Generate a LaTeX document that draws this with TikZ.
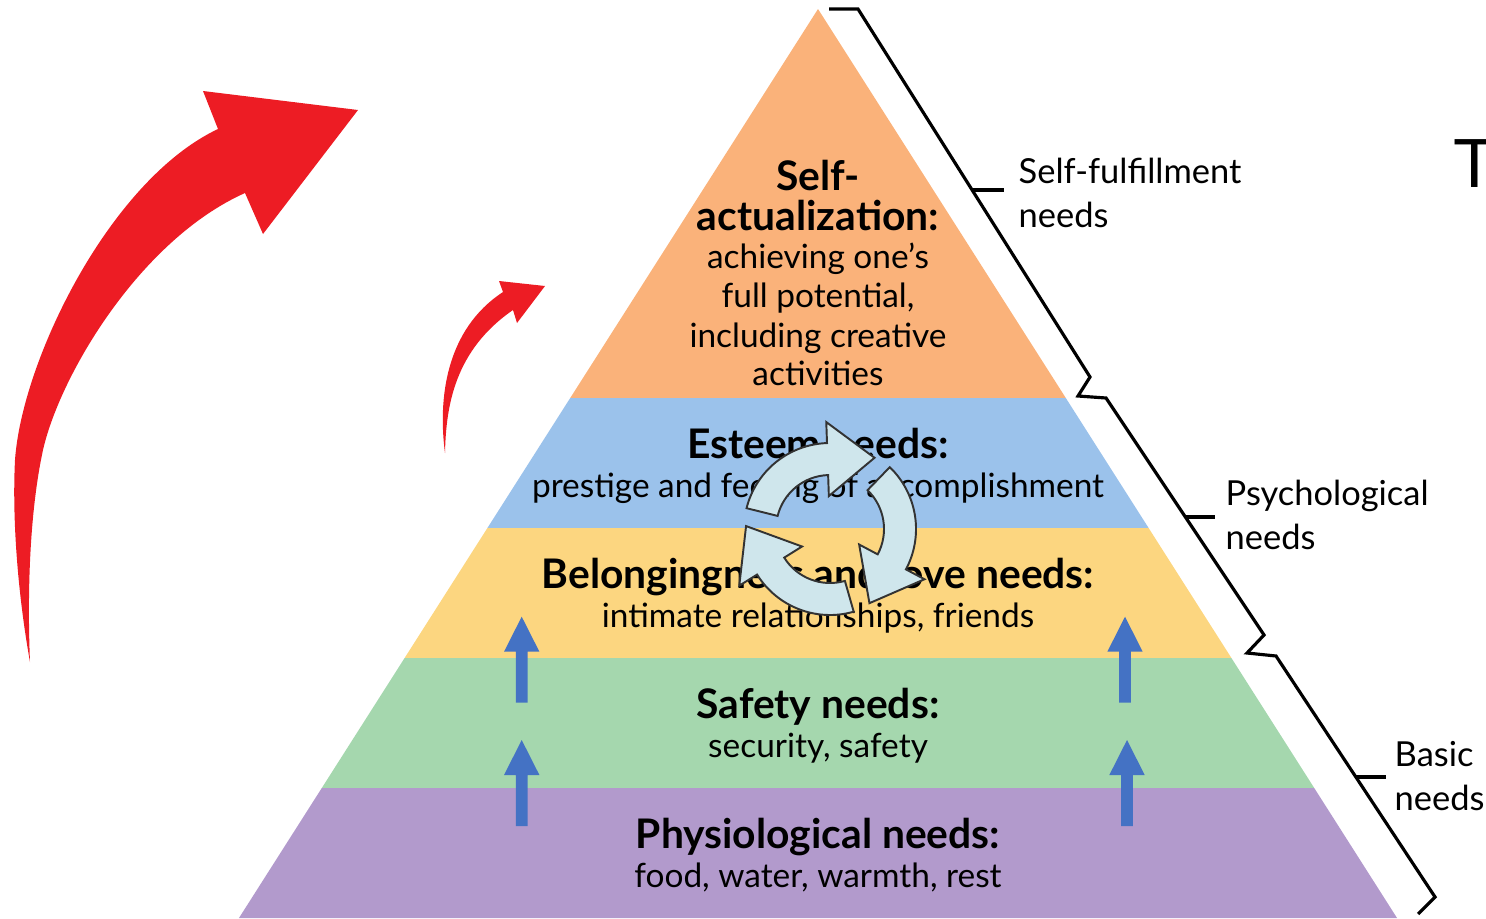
\documentclass[tikz,border=0pt]{standalone}
\usepackage{fontspec}
\setmainfont{Lato}
\newfontfamily\titlefont{Liberation Sans}
\usetikzlibrary{calc}
\definecolor{saorange}{HTML}{FAB27A}
\definecolor{esblue}{HTML}{9BC2EB}
\definecolor{blyellow}{HTML}{FCD680}
\definecolor{sfgreen}{HTML}{A5D7AE}
\definecolor{phpurple}{HTML}{B29ACC}
\definecolor{arrred}{HTML}{ED1C24}
\definecolor{arrblue}{HTML}{4472C4}
\definecolor{cycfill}{HTML}{CFE6EC}
\newcommand\pyrreg{\fontsize{9.5}{11}\selectfont}
\newcommand\pyrbold{\fontsize{11.6}{13}\selectfont\bfseries}
\newcommand\sidefnt{\fontsize{9.8}{12}\selectfont}

\begin{document}
\begin{tikzpicture}[x=0.01cm,y=-0.01cm,
  lvl/.style={font=\pyrreg,anchor=base,inner sep=0pt},
  lvlb/.style={lvl,font=\pyrbold},
  side/.style={font=\sidefnt,anchor=base west,inner sep=0pt},
  brace/.style={line width=0.9pt,line join=miter},
  cyc/.style={fill=cycfill,draw=black!80,line width=0.55pt,line join=miter}]
\useasboundingbox (0,0) rectangle (1486,918);
\clip (0,0) rectangle (1486,918);
% pyramid bands
\foreach \ya/\yb/\col in {9/398/saorange,398/528/esblue,528/658/blyellow,658/788/sfgreen,788/918/phpurple}
  \fill[\col] ({818-0.637*(\ya-9)},\ya)--({818+0.637*(\ya-9)},\ya)--({818+0.637*(\yb-9)},\yb)--({818-0.637*(\yb-9)},\yb)--cycle;
% level texts
\node[lvlb] (sa1) at (818,190) {Self-};
\node[lvlb] (sa2) at (818,230) {actualization:};
\node[lvl] (sa3) at (818,268) {achieving one’s};
\node[lvl] (sa4) at (818,307) {full potential,};
\node[lvl] (sa5) at (818,347) {including creative};
\node[lvl] (sa6) at (818,385) {activities};
\node[lvlb] (es1) at (818,458) {Esteem needs:};
\node[lvl] (es2) at (818,497) {prestige and feeling of accomplishment};
\node[lvlb] (bl1) at (818,588) {Belongingness and love needs:};
\node[lvl] (bl2) at (818,627) {intimate relationships, friends};
\node[lvlb] (sf1) at (818,718) {Safety needs:};
\node[lvl] (sf2) at (818,757) {security, safety};
\node[lvlb] (ph1) at (818,848) {Physiological needs:};
\node[lvl] (ph2) at (818,887) {food, water, warmth, rest};
% brackets
\draw[brace] (829,9)--(858,9)--(1090,377)--(1078,396)--(1106,398)--(1264,635)--(1247,653)--(1276,656)--(1435,897)--(1418,914);
\draw[brace] (972,190)--(1004,190);
\draw[brace] (1186,517)--(1215,517);
\draw[brace] (1356,777)--(1386,777);
\node[side] (lsf1) at (1018,183) {Self-fulfillment};
\node[side] (lsf2) at (1018,227) {needs};
\node[side] (lps1) at (1225,505) {Psychological};
\node[side] (lps2) at (1225,549) {needs};
\node[side] (lba1) at (1394,766) {Basic};
\node[side] (lba2) at (1394,810) {needs};
\node[font={\titlefont\fontsize{19.8}{22}\selectfont},anchor=base west,inner sep=0pt] (ttl) at (1452.5,187) {T};
% red arrows
\fill[arrred] (30,662) .. controls (18,595) and (12,520) .. (15,460) .. controls (22,360) and (110,180) .. (218,129) -- (203,91) -- (358,110) -- (263,234) -- (245,193) .. controls (140,240) and (60,375) .. (43,450) .. controls (30,510) and (27,590) .. (30,662) -- cycle;
\fill[arrred] (445,453) .. controls (438,400) and (445,330) .. (503,292) -- (499,281) -- (545,286) -- (517,323) -- (513,310) .. controls (455,350) and (446,405) .. (445,453) -- cycle;
% blue arrows
\foreach \cx/\ty in {521.7/616.7,521.7/740,1125/616.7,1127/740}
  \fill[arrblue] ({\cx-5.8},{\ty+86})--({\cx-5.8},{\ty+35})--({\cx-17.7},{\ty+35})--(\cx,\ty)--({\cx+17.7},{\ty+35})--({\cx+5.8},{\ty+35})--({\cx+5.8},{\ty+86})--cycle;
% cycle arrows
\begin{scope}[shift={(830,529)}]
\foreach \a in {194,314,434}
  \filldraw[cyc] (\a:86) arc[start angle=\a,delta angle=74,radius=86]--({\a+74}:107)--({\a+108}:84)--({\a+74}:33)--({\a+74}:54) arc[start angle={\a+74},delta angle=-74,radius=54]--cycle;
\end{scope}
\end{tikzpicture}
\end{document}
